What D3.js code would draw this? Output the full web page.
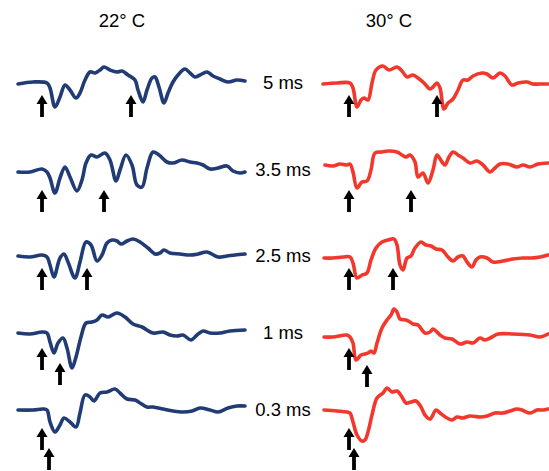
<!DOCTYPE html>
<html>
<head>
<meta charset="utf-8">
<script src="https://cdn.jsdelivr.net/npm/d3@7"></script>
<style>
  html, body { margin: 0; padding: 0; background: #fff; }
  svg { display: block; }
  text { font-family: "Liberation Sans", Arial, Helvetica, sans-serif; fill: #000; }
</style>
</head>
<body>
<svg id="chart" width="549" height="471"></svg>
<script>
// ---------------- DATA ----------------
const temperatures = ["22\u00B0 C", "30\u00B0 C"];
const intervals = ["5 ms", "3.5 ms", "2.5 ms", "1 ms", "0.3 ms"];

// Traces: [time (a.u.), amplitude (a.u., up = positive)]
const trace22_5ms = [[0,-1],[15,1],[29,0],[32,-5],[37,-24],[42,-14],[47,-2],[52,-7],[58,-15],[62,-10],[67,3],[72,11],[77,10],[82,13],[86,16],[92,13],[99,11],[104,12],[110,8],[117,3],[120,-7],[125,-19],[129,-7],[134,5],[137,6],[141,-4],[146,-20],[150,-10],[155,1],[160,8],[167,14],[172,10],[177,6],[182,8],[189,11],[195,7],[202,4],[210,1],[219,3],[227,2]];
const trace30_5ms = [[0,-1],[14,0],[27,0],[30,-5],[34,-24],[38,-17],[41,-15],[45,-17],[49,0],[53,13],[60,17],[66,13],[74,16],[79,12],[84,6],[90,8],[95,5],[101,0],[107,-6],[110,-4],[114,0],[117,-5],[121,-26],[125,-20],[130,-16],[135,-7],[140,3],[145,3],[150,7],[159,10],[164,9],[170,5],[177,10],[182,7],[189,-2],[195,0],[204,1],[210,-1],[217,-1],[225,-1]];

const trace22_3p5ms = [[0,-2],[12,-2],[24,1],[29,-2],[32,-8],[37,-23],[42,-8],[47,3],[52,-7],[59,-21],[64,-10],[68,7],[73,15],[79,13],[87,17],[92,10],[98,-11],[102,0],[108,15],[114,5],[119,-15],[124,-17],[129,2],[135,18],[141,15],[149,8],[155,7],[164,10],[172,8],[179,7],[185,5],[192,1],[200,2],[209,4],[215,-1],[222,-3],[227,-2]];
const trace30_3p5ms = [[2,5],[10,4],[17,6],[24,5],[27,6],[30,-2],[34,-18],[39,-12],[44,-11],[48,0],[52,17],[59,18],[65,19],[74,18],[79,15],[83,13],[87,15],[92,8],[95,-7],[100,-3],[105,-13],[110,0],[114,15],[119,8],[122,5],[126,13],[130,18],[135,15],[140,12],[147,7],[154,9],[160,5],[167,-2],[172,2],[177,6],[185,6],[194,3],[200,5],[207,3],[215,6],[225,7]];

const trace22_2p5ms = [[0,0],[12,-1],[24,1],[29,-1],[32,-9],[36,-21],[42,-2],[46,2],[50,-6],[57,-22],[62,-6],[68,14],[73,11],[79,-5],[84,1],[89,13],[94,16],[99,15],[103,12],[109,15],[115,17],[122,14],[130,8],[137,2],[142,3],[146,6],[152,3],[162,2],[172,1],[180,2],[189,4],[200,-1],[209,0],[217,1],[227,2]];
const trace30_2p5ms = [[1,-2],[10,-2],[20,-1],[27,-1],[30,-7],[34,-22],[39,-19],[44,-17],[48,-4],[53,8],[59,14],[65,16],[71,17],[74,11],[77,-9],[80,-14],[84,-2],[88,0],[92,8],[98,14],[103,11],[108,10],[113,7],[119,6],[125,-1],[130,-5],[135,-1],[140,0],[144,-6],[149,-11],[153,-4],[157,-1],[164,-2],[170,-6],[180,-5],[190,-3],[200,-2],[209,-2],[217,-1],[225,1]];

const trace22_1ms = [[0,0],[12,-1],[24,1],[29,0],[32,-9],[36,-20],[40,-10],[45,-5],[49,-15],[54,-35],[58,-24],[63,-4],[68,10],[74,11],[79,13],[84,18],[90,16],[99,20],[107,16],[115,9],[124,6],[135,0],[145,1],[152,-2],[159,-3],[165,-2],[173,-7],[179,-2],[185,2],[192,0],[202,0],[212,2],[227,3]];
const trace30_1ms = [[1,-4],[10,-4],[24,-2],[27,-4],[30,-10],[33,-27],[38,-22],[42,-21],[45,-20],[48,-18],[51,-20],[54,-10],[59,5],[64,13],[68,18],[71,24],[74,21],[77,14],[83,13],[87,11],[90,9],[95,8],[102,0],[107,1],[110,4],[117,-2],[122,-5],[129,-6],[137,-11],[144,-9],[150,-10],[157,-5],[162,-7],[169,-4],[175,-1],[190,-1],[207,-2],[217,-4],[225,-1]];

const trace22_0p3ms = [[0,0],[15,0],[25,1],[29,0],[32,-12],[37,-22],[42,-15],[46,-8],[52,-12],[58,-17],[62,-3],[67,15],[72,13],[76,9],[82,17],[89,18],[97,21],[102,17],[109,11],[117,10],[122,7],[129,3],[135,3],[145,1],[155,-1],[165,-2],[174,-1],[182,2],[192,0],[200,-2],[210,2],[219,4],[227,4]];
const trace30_0p3ms = [[1,0],[14,-1],[24,-2],[27,-3],[30,-12],[34,-25],[39,-31],[42,-30],[45,-22],[49,-5],[54,12],[60,17],[64,22],[69,18],[74,19],[79,13],[83,7],[88,8],[93,9],[98,3],[102,-5],[107,-9],[113,0],[117,-3],[124,-8],[129,-10],[134,-7],[140,-8],[147,-6],[157,-7],[164,-6],[172,-3],[180,-3],[187,-1],[194,1],[199,0],[207,-3],[214,0],[220,0],[225,1]];

// Stimulus arrows: [time, amplitude of arrow tip]
const arrows22 = [
  [[24,-12],[113,-12]],
  [[24,-20],[86,-20]],
  [[24,-12],[69,-12]],
  [[24,-15],[42,-30]],
  [[24,-18],[31,-38]]
];
const arrows30 = [
  [[26,-12],[114,-12]],
  [[26,-20],[88,-20]],
  [[26,-12],[70,-12]],
  [[26,-15],[44,-32]],
  [[26,-18],[31,-38]]
];

const traces22 = [trace22_5ms, trace22_3p5ms, trace22_2p5ms, trace22_1ms, trace22_0p3ms];
const traces30 = [trace30_5ms, trace30_3p5ms, trace30_2p5ms, trace30_1ms, trace30_0p3ms];

// ---------------- LAYOUT ----------------
const svg = d3.select("#chart");
const rowBaselines = [83, 170, 256, 333, 410];
const panels = [
  { title: temperatures[0], traces: traces22, arrows: arrows22, x0: 18, color: "#213c74", titleX: 122 },
  { title: temperatures[1], traces: traces30, arrows: arrows30, x0: 323, color: "#f2372c", titleX: 389 }
];

const line = (x, y) => d3.line()
  .x(d => x(d[0]))
  .y(d => y(d[1]))
  .curve(d3.curveCatmullRom.alpha(0.5));

panels.forEach(p => {
  const x = d3.scaleLinear().domain([0, 227]).range([p.x0, p.x0 + 227]);
  svg.append("text")
    .attr("x", p.titleX).attr("y", 27)
    .attr("text-anchor", "middle")
    .attr("font-size", 18.5)
    .text(p.title);

  p.traces.forEach((tr, i) => {
    const b = rowBaselines[i];
    const y = d3.scaleLinear().domain([-40, 40]).range([b + 40, b - 40]);
    svg.append("path")
      .datum(tr)
      .attr("fill", "none")
      .attr("stroke", p.color)
      .attr("stroke-width", 3.6)
      .attr("stroke-linejoin", "round")
      .attr("stroke-linecap", "round")
      .attr("d", line(x, y));

    p.arrows[i].forEach(a => {
      const ax = x(a[0]);
      const ay = y(a[1]);
      const len = 22, headH = 9, headW = 5.5;
      const g = svg.append("g");
      g.append("path")
        .attr("d", `M${ax},${ay} L${ax + headW},${ay + headH} L${ax - headW},${ay + headH} Z`)
        .attr("fill", "#000");
      g.append("rect")
        .attr("x", ax - 1.9).attr("y", ay + headH - 1)
        .attr("width", 3.8).attr("height", len - headH + 1)
        .attr("fill", "#000");
    });
  });
});

intervals.forEach((lab, i) => {
  svg.append("text")
    .attr("x", 283).attr("y", rowBaselines[i])
    .attr("dy", "0.35em")
    .attr("text-anchor", "middle")
    .attr("font-size", 18.5)
    .text(lab);
});
</script>
</body>
</html>
